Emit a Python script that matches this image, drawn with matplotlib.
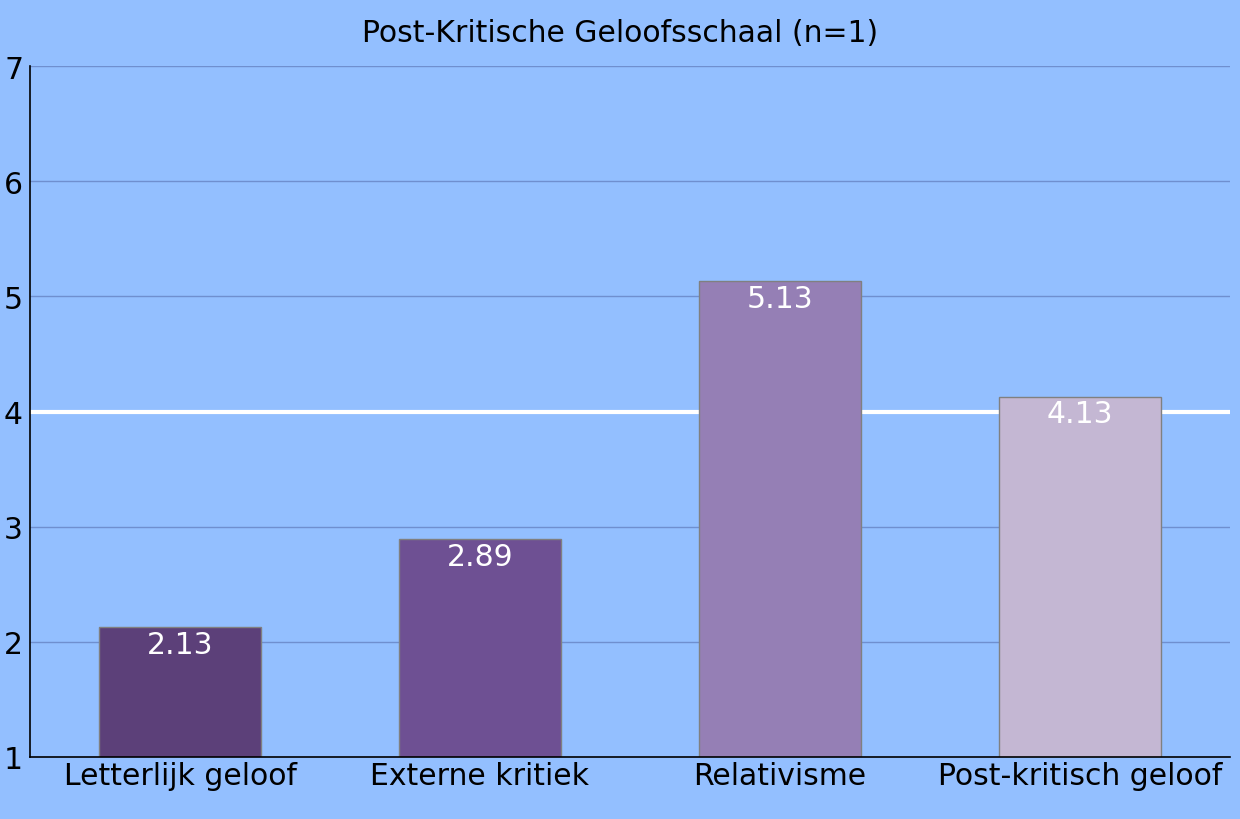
import matplotlib
matplotlib.use("Agg")
import matplotlib.pyplot as plt

# data
categories = ["Letterlijk geloof", "Externe kritiek", "Relativisme", "Post-kritisch geloof"]
scores = [2.13, 2.89, 5.13, 4.13]
bar_colors = ["#5c4079", "#6e5093", "#957fb5", "#c4b7d3"]
yticks = [1, 2, 3, 4, 5, 6, 7]
midpoint = 4

BG = "#93bfff"
FS = 21.5

plt.rcParams["font.family"] = ["DejaVu Sans"]

fig = plt.figure(figsize=(12.4, 8.2), dpi=100, facecolor=BG)
ax = fig.add_axes([30 / 1240, 1 - 758 / 820, 1200 / 1240, (758 - 67) / 820])
ax.set_facecolor(BG)

x = list(range(len(categories)))
bars = ax.bar(x, scores, width=0.54, bottom=0, color=bar_colors,
              edgecolor="#808080", linewidth=1, zorder=3)

ax.set_xlim(-0.5, len(categories) - 0.5)
ax.set_ylim(yticks[0], yticks[-1])
ax.set_yticks(yticks)
ax.set_xticks(x)
ax.set_xticklabels(categories, fontsize=FS)
ax.tick_params(axis="both", length=0, labelsize=FS, pad=3)
ax.tick_params(axis="y", pad=5)

ax.grid(axis="y", color="#6f8fcf", linewidth=1, zorder=0)
ax.axhline(midpoint, color="white", linewidth=3, zorder=2)

for s in ["top", "right"]:
    ax.spines[s].set_visible(False)
for s in ["left", "bottom"]:
    ax.spines[s].set_color("black")
    ax.spines[s].set_linewidth(1.2)
    ax.spines[s].set_zorder(4)

for b, v in zip(bars, scores):
    ax.annotate(f"{v:.2f}", (b.get_x() + b.get_width() / 2, v),
                xytext=(0, -2), textcoords="offset points",
                ha="center", va="top", color="white", fontsize=FS, zorder=5)

fig.text(0.5, 1 - 33 / 820, "Post-Kritische Geloofsschaal (n=1)",
         ha="center", va="center", fontsize=FS)

fig.savefig("out.png", dpi=100, facecolor=BG)
